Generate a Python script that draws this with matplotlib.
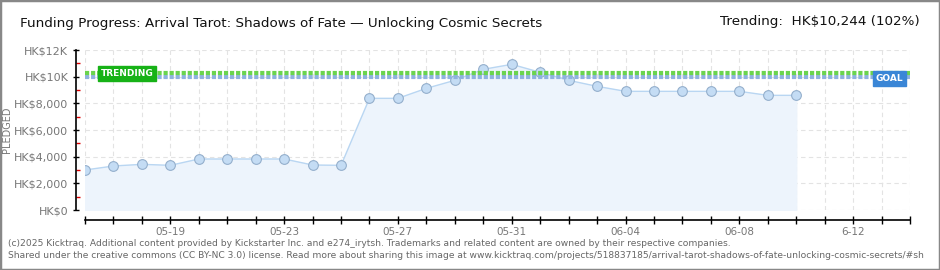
import matplotlib
matplotlib.use('Agg')
import matplotlib.pyplot as plt
import matplotlib.dates as mdates
from matplotlib.patches import Rectangle
import datetime as dt

# ---- data ----
dates = ['2025-05-16', '2025-05-17', '2025-05-18', '2025-05-19', '2025-05-20',
         '2025-05-21', '2025-05-22', '2025-05-23', '2025-05-24', '2025-05-25',
         '2025-05-26', '2025-05-27', '2025-05-28', '2025-05-29', '2025-05-30',
         '2025-05-31', '2025-06-01', '2025-06-02', '2025-06-03', '2025-06-04',
         '2025-06-05', '2025-06-06', '2025-06-07', '2025-06-08', '2025-06-09',
         '2025-06-10']
pledged = [3000, 3300, 3425, 3350, 3825, 3825, 3825, 3825, 3375, 3350,
           8375, 8375, 9125, 9725, 10550, 10925, 10325, 9725, 9275, 8900,
           8900, 8900, 8900, 8900, 8600, 8600]
goal = 10000
trending = 10244
start_date = '2025-05-16'
end_date = '2025-06-14'
ytick_values = [0, 2000, 4000, 6000, 8000, 10000, 12000]
ytick_labels = ['HK$0', 'HK$2,000', 'HK$4,000', 'HK$6,000', 'HK$8,000', 'HK$10K', 'HK$12K']
xlabel_dates = ['2025-05-19', '2025-05-23', '2025-05-27', '2025-05-31',
                '2025-06-04', '2025-06-08', '2025-06-12']
xlabel_texts = ['05-19', '05-23', '05-27', '05-31', '06-04', '06-08', '6-12']

title = 'Funding Progress: Arrival Tarot: Shadows of Fate \u2014 Unlocking Cosmic Secrets'
trend_text = 'Trending:  HK$10,244 (102%)'
footer1 = ('(c)2025 Kicktraq. Additional content provided by Kickstarter Inc. and e274_irytsh. '
           'Trademarks and related content are owned by their respective companies.')
footer2 = ('Shared under the creative commons (CC BY-NC 3.0) license. Read more about sharing this image at '
           'www.kicktraq.com/projects/518837185/arrival-tarot-shadows-of-fate-unlocking-cosmic-secrets/#sh')

plt.rcParams['font.family'] = ['DejaVu Sans']

W, H = 940, 270
fig = plt.figure(figsize=(W / 100, H / 100), dpi=100)
fig.patch.set_facecolor('white')

x = [dt.datetime.strptime(d, '%Y-%m-%d') for d in dates]
x0 = dt.datetime.strptime(start_date, '%Y-%m-%d')
x1 = dt.datetime.strptime(end_date, '%Y-%m-%d')

ax = fig.add_axes([85 / W, 1 - 210 / H, (910 - 85) / W, (210 - 50) / H])
ax.set_xlim(x0, x1)
ax.set_ylim(0, 12000)
ax.set_facecolor('white')

# grid
ax.grid(True, which='major', color='#e3e3e3', linestyle=(0, (4, 3)), linewidth=0.8)
ax.set_axisbelow(True)

# area + line + markers
ax.fill_between(x, pledged, 0, color='#edf4fc', zorder=2)
ax.plot(x, pledged, color='#b9d6f2', linewidth=1.0, zorder=3)
ax.plot(x, pledged, linestyle='none', marker='o', markersize=7,
        markerfacecolor='#c4dcf4', markeredgecolor='#94afcc', markeredgewidth=0.8, zorder=4)

# goal and trending lines
ax.axhline(goal, color='#8fb2e0', linewidth=3, linestyle=(0, (1, 0.45)), zorder=5)
ax.axhline(trending, color='#6ad44e', linewidth=3, linestyle=(0, (1, 0.45)), zorder=6)

# labels on lines
ax.annotate('TRENDING', xy=(x0 + dt.timedelta(days=0.55), trending), xycoords='data',
            ha='left', va='center', fontsize=6.5, color='white', fontweight='bold',
            bbox=dict(boxstyle='square,pad=0.3', facecolor='#17b217', edgecolor='#17b217'),
            zorder=8)
ax.annotate('GOAL', xy=(x1 - dt.timedelta(days=0.25), goal - 150), xycoords='data',
            ha='right', va='center', fontsize=6.5, color='white', fontweight='bold',
            bbox=dict(boxstyle='square,pad=0.3', facecolor='#3a86d6', edgecolor='#3a86d6'),
            zorder=8)

# axes styling
for s in ['top', 'right']:
    ax.spines[s].set_visible(False)
ax.spines['left'].set_position(('outward', 6.5))
ax.spines['bottom'].set_position(('outward', 7.2))
ax.spines['left'].set_color('black')
ax.spines['bottom'].set_color('black')
ax.spines['left'].set_linewidth(1.2)
ax.spines['bottom'].set_linewidth(1.2)

ax.set_yticks(ytick_values)
ax.set_yticklabels(ytick_labels)
ax.set_yticks([1000, 3000, 5000, 7000, 9000, 11000], minor=True)
ax.tick_params(axis='y', which='major', direction='inout', length=5, width=1, color='black',
               labelsize=8, labelcolor='#777777', pad=3)
ax.tick_params(axis='y', which='minor', direction='in', length=3, width=1, color='#dd0000')

ax.xaxis.set_major_locator(mdates.DayLocator())
ax.set_xticklabels([])
ax.tick_params(axis='x', which='major', direction='inout', length=6, width=1, color='black')
for d, t in zip(xlabel_dates, xlabel_texts):
    xd = mdates.date2num(dt.datetime.strptime(d, '%Y-%m-%d'))
    ax.text(xd, -0.105, t, transform=ax.get_xaxis_transform(), ha='center', va='top',
            fontsize=7.5, color='#777777')

fig.text(7 / W, 1 - 130 / H, 'PLEDGED', rotation=90, ha='center', va='center',
         fontsize=7, color='#777777')

# header
fig.text(20 / W, 1 - 23 / H, title, ha='left', va='center', fontsize=9.7, color='#111111')
fig.text(920 / W, 1 - 22 / H, trend_text, ha='right', va='center', fontsize=9.7, color='#111111')

# footer
fig.text(8 / W, 1 - 243 / H, footer1, ha='left', va='center', fontsize=6.6, color='#666666')
fig.text(8 / W, 1 - 256 / H, footer2, ha='left', va='center', fontsize=6.6, color='#666666')

# border
fig.patches.append(Rectangle((0, 0), 1, 1, transform=fig.transFigure, fill=False,
                             edgecolor='#888888', linewidth=2.5))

fig.savefig('out.png', dpi=100, facecolor='white')
